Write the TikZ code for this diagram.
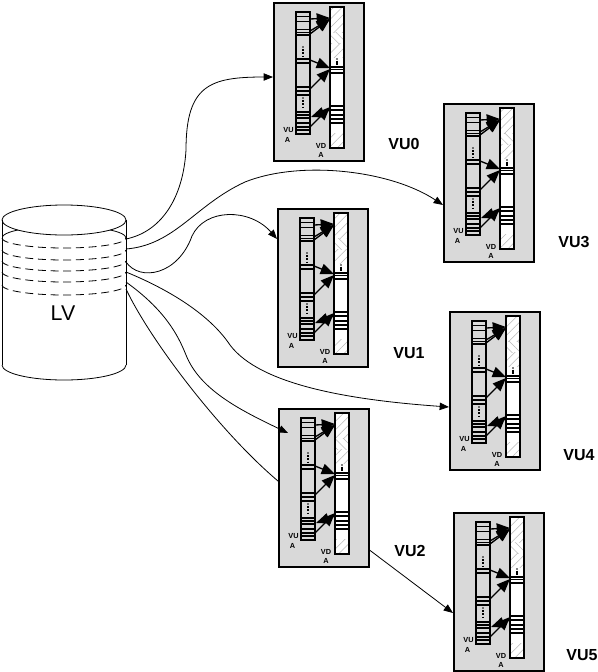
\documentclass[tikz,border=0pt]{standalone}
\usepackage{fontspec}
\setmainfont{Liberation Sans}
\usetikzlibrary{arrows.meta,patterns.meta,calc,backgrounds}
\definecolor{boxgray}{RGB}{217,217,217}
\definecolor{hatchc}{RGB}{185,185,185}
\begin{document}
\begin{tikzpicture}[x=0.75pt,y=-0.75pt,
  boxst/.style={draw=black,line width=1.4pt,fill=boxgray,minimum width=67.5pt,minimum height=118.5pt,inner sep=0pt,anchor=north west},
  conn/.style={draw=black,line width=0.6pt,-{Triangle[length=7pt,width=5.5pt]}},
  inarr/.style={line width=1pt,-{Triangle[length=10pt,width=8pt]}},
  smalllbl/.style={font=\fontsize{5.5}{6}\selectfont\bfseries,inner sep=0pt},
  vulabel/.style={font=\fontsize{12}{14}\selectfont\bfseries,inner sep=0pt},
  stripe/.style={line width=1pt},
  cyl/.style={line width=0.6pt},
  band/.style={line width=0.6pt,dash pattern=on 6pt off 3.5pt},
  hatchne/.style={pattern={Lines[angle=45,distance=4.5pt,line width=0.4pt]},pattern color=hatchc},
  hatchnw/.style={pattern={Lines[angle=-45,distance=4.5pt,line width=0.4pt]},pattern color=hatchc},
  vubox/.pic={
    \node[boxst] (-box) at (0,0) {};
    % VDA column
    \fill[white] (57,5) rectangle (71,146);
    \fill[hatchne] (57,5) rectangle (71,30);
    \fill[hatchnw] (57,30) rectangle (71,41);
    \fill[hatchne] (57,41) rectangle (71,55);
    \fill[hatchne] (57,131) rectangle (71,146);
    \draw[line width=1pt] (57,5) rectangle (71,146);
    \foreach \yy in {65,67.5,71,104,108,113,117,121}{\draw[stripe] (57,\yy) -- (71,\yy);}
    \fill (64,57) circle (0.6pt);
    \draw[line width=1pt] (64,58.7) -- (64,62.5);
    % VUA column
    \draw[line width=1.3pt] (23,10) rectangle (37,132);
    \foreach \yy in {14.5,19.5,27.5,30.5,33,57,61,85,89,93,110,113,116,121,125,128}{\draw[stripe] (23,\yy) -- (37,\yy);}
    \fill (30,45) circle (0.6pt);
    \draw[line width=1pt,dash pattern=on 1.5pt off 1pt] (30,47) -- (30,55);
    \fill (30,96) circle (0.6pt);
    \draw[line width=1pt,dash pattern=on 1.5pt off 1pt] (30,98) -- (30,106);
    % inner arrows
    \draw[inarr] (37,17) -- (57,16);
    \draw[inarr] (37,29) -- (57,17);
    \draw[inarr] (37,32) -- (57,17);
    \draw[inarr] (37,58) -- (57,66);
    \draw[inarr] (37,87) -- (57,67);
    \draw[inarr] (37,125) -- (57,105);
    \draw[inarr] (57,108) -- (38,115);
    % labels
    \node[smalllbl] (-vu) at (15.5,128.5) {VU};
    \node[smalllbl] (-vua) at (14.5,137.5) {A};
    \node[smalllbl] (-vd) at (48,143.5) {VD};
    \node[smalllbl] (-vda) at (48,152.5) {A};
  }
]
\useasboundingbox (0,0) rectangle (597,672);

% ---------- cylinder LV ----------
\draw[cyl] (2,220) -- (2,365);
\draw[cyl] (126,220) -- (126,365);
\draw[cyl] (64,220) ellipse [x radius=62, y radius=15];
\draw[cyl] (2,365) arc[start angle=180, end angle=0, x radius=62, y radius=15];
\begin{scope}
  \clip (2,220) arc[start angle=180, end angle=0, x radius=62, y radius=15] -- (126,320) -- (2,320) -- cycle;
  \draw[cyl] (2,238) arc[start angle=180, end angle=360, x radius=62, y radius=12];
\end{scope}
\foreach \yy in {238,250,261,272,285}{
  \draw[band] (2,\yy) arc[start angle=180, end angle=0, x radius=62, y radius=10];
}
\node[font=\fontsize{16}{18}\selectfont,inner sep=0pt] (lv) at (63,313) {LV};
\coordinate (c1) at (126,239);
\coordinate (c2) at (126,249);
\coordinate (c3) at (126,262);
\coordinate (c4) at (126,272);
\coordinate (c5) at (126,282);
\coordinate (c6) at (126,289);

% ---------- boxes ----------
\pic (vu0) at (273,2) {vubox};
\pic (vu3) at (443,103) {vubox};
\pic (vu1) at (277,208) {vubox};
\pic (vu4) at (449,311) {vubox};
\pic (vu2) at (278,408) {vubox};
\pic (vu5) at (453,512) {vubox};

\node[vulabel] (l0) at (404,144) {VU0};
\node[vulabel] (l3) at (574,242) {VU3};
\node[vulabel] (l1) at (409,353) {VU1};
\node[vulabel] (l4) at (579,455) {VU4};
\node[vulabel] (l2) at (410,551) {VU2};
\node[vulabel] (l5) at (582,655) {VU5};

% ---------- connectors ----------
\begin{pgfonlayer}{background}
\draw[conn] (c6) .. controls (150,340) and (220,432) .. ($(vu2-box.north west)+(0,73)$) -- ($(vu5-box.north west)+(0,101)$);
\end{pgfonlayer}
\draw[conn] (c1) .. controls (160,232) and (183,200) .. (186,150) .. controls (186,85) and (210,77) .. ($(vu0-box.north west)+(0,75)$);
\draw[conn] (c2) .. controls (175,245) and (195,205) .. (245,182) .. controls (300,160) and (390,170) .. ($(vu3-box.north west)+(0,102)$);
\draw[conn] (c3) .. controls (140,282) and (178,275) .. (192,236) .. controls (205,208) and (250,208) .. ($(vu1-box.north west)+(0,31)$);
\draw[conn] (c4) .. controls (170,290) and (210,315) .. (230,345) .. controls (260,385) and (350,400) .. ($(vu4-box.north west)+(0,96)$);
\draw[conn] (c5) .. controls (165,310) and (178,335) .. (186,355) .. controls (200,390) and (240,410) .. ($(vu2-box.north west)+(10,25)$);
\end{tikzpicture}
\end{document}
